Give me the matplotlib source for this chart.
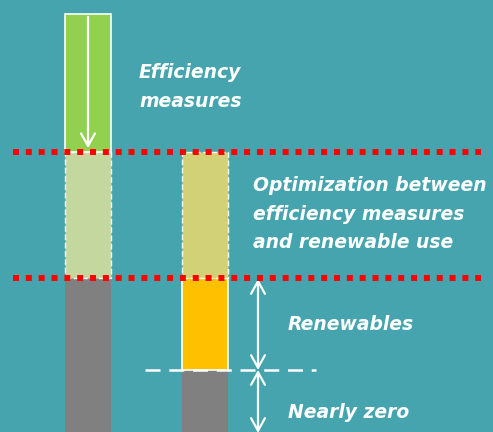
import matplotlib.pyplot as plt
import matplotlib as mpl

# stacked energy demand (arbitrary units, bottom -> top)
categories = ["Current building", "Nearly zero building"]
gray_part = [154, 62]
renew_part = [0, 92]
optim_part = [126, 126]
effic_part = [138, 0]

lvl_low = 154    # red line, bottom of optimisation band
lvl_high = 280   # red line, top of optimisation band
lvl_nz = 62      # nearly zero level

bg = "#45a4ae"
c_gray = "#808080"
c_renew = "#ffc000"
c_effic = "#92d050"
c_opt = ["#c4d79f", "#d3d178"]

mpl.rcParams["font.family"] = ["DejaVu Sans"]

fig = plt.figure(figsize=(4.93, 4.32), dpi=100)
fig.patch.set_facecolor(bg)
ax = fig.add_axes([0, 0, 1, 1])
ax.set_facecolor(bg)
ax.set_xlim(0, 493)
ax.set_ylim(0, 432)
ax.axis("off")

xs = [88, 205]
w = 46

# gray base
ax.bar(xs, gray_part, width=w, color=c_gray, zorder=2)
# renewables (solid white edge)
ax.bar(xs[1], renew_part[1], bottom=gray_part[1], width=w, color=c_renew,
       edgecolor="white", linewidth=1.2, zorder=3)
# optimisation band (dashed white edge)
bottoms = [g + r for g, r in zip(gray_part, renew_part)]
for i in range(2):
    ax.bar(xs[i], optim_part[i], bottom=bottoms[i], width=w, color=c_opt[i],
           edgecolor="white", linewidth=1.0, linestyle=(0, (4, 2)), zorder=3)
# efficiency part
ax.bar(xs[0], effic_part[0], bottom=bottoms[0] + optim_part[0], width=w,
       color=c_effic, edgecolor="white", linewidth=1.2, zorder=3)

# arrow inside efficiency bar
top = bottoms[0] + optim_part[0] + effic_part[0]
ax.annotate("", xy=(xs[0], lvl_high + 1), xytext=(xs[0], top),
            arrowprops=dict(arrowstyle="->,head_length=0.9,head_width=0.5",
                            color="white", lw=1.6), zorder=5)

# red dotted levels
for lv in [lvl_low, lvl_high]:
    ax.plot([13, 481], [lv, lv], color="#ff0000", lw=4.3,
            linestyle=(0, (1, 1.15)), dash_capstyle="butt", zorder=4)

# nearly zero dashed level
ax.plot([145, 316], [lvl_nz, lvl_nz], color="white", lw=1.8,
        linestyle=(0, (6, 3.5)), zorder=4)

# double arrows
ap = dict(arrowstyle="<->,head_length=0.9,head_width=0.5", color="white",
          lw=1.6, shrinkA=0, shrinkB=0)
ax.annotate("", xy=(258, lvl_low - 1), xytext=(258, lvl_nz), arrowprops=ap)
ax.annotate("", xy=(258, lvl_nz), xytext=(258, -1), arrowprops=ap)

tk = dict(color="white", fontsize=13.5, fontweight="bold", style="italic",
          va="center", ha="left", linespacing=1.65)
ax.text(139, 345, "Efficiency\nmeasures", **tk)
ax.text(253, 218, "Optimization between\nefficiency measures\nand renewable use", **tk)
ax.text(288, 108, "Renewables", **tk)
ax.text(288, 20, "Nearly zero", **tk)

fig.savefig("out.png", dpi=100, facecolor=bg)
